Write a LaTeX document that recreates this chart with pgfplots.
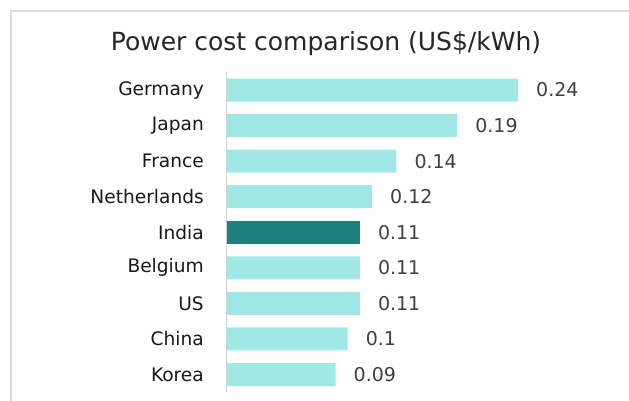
\documentclass[border=0pt]{standalone}
\usepackage{pgfplots}
\pgfplotsset{compat=1.18}
\usepackage{fontspec}
\setmainfont{DejaVu Sans}
\definecolor{barlight}{RGB}{160,232,230}
\definecolor{bardark}{RGB}{30,127,123}
\definecolor{framegray}{RGB}{218,218,224}
\definecolor{axisgray}{RGB}{210,210,218}
\definecolor{valgray}{RGB}{64,64,64}
\begin{document}
\begin{tikzpicture}
\path[use as bounding box] (0,0) rectangle (629bp,401bp);
\fill[white] (0,0) rectangle (629bp,401bp);
\draw[framegray, line width=1.2bp] (11bp,0) -- (11bp,390bp) -- (629bp,390bp);
\node[anchor=base, font=\fontsize{25bp}{30bp}\selectfont, text=black!85] at (326bp,350bp) {Power cost comparison (US\$/kWh)};
\begin{axis}[
  at={(226bp,8.7bp)}, anchor=south west,
  scale only axis, width=365bp, height=320bp,
  xbar, bar width=23bp, bar shift=0pt,
  xmin=0, xmax=0.3, ymin=-0.5, ymax=8.5,
  ytick={0,...,8},
  yticklabels={Korea,China,US,Belgium,India,Netherlands,France,Japan,Germany},
  xtick=\empty,
  major tick length=0pt,
  axis line style={draw=none},
  yticklabel style={font=\fontsize{18.6bp}{22bp}\selectfont, text=black!90, inner sep=0pt, xshift=-22bp},
  point meta=explicit symbolic,
  nodes near coords,
  nodes near coords style={anchor=west, inner sep=0pt, xshift=18bp, font=\fontsize{19bp}{23bp}\selectfont, text=valgray},
  clip=false,
]
\addplot[fill=barlight, draw=none] coordinates {(0.09,0)[0.09] (0.1,1)[0.1] (0.11,2)[0.11] (0.11,3)[0.11] (0.12,5)[0.12] (0.14,6)[0.14] (0.19,7)[0.19] (0.24,8)[0.24]};
\addplot[fill=bardark, draw=none] coordinates {(0.11,4)[0.11]};
\draw[axisgray, line width=1bp] (axis cs:0,-0.5) -- (axis cs:0,8.5);
\end{axis}
\end{tikzpicture}
\end{document}
